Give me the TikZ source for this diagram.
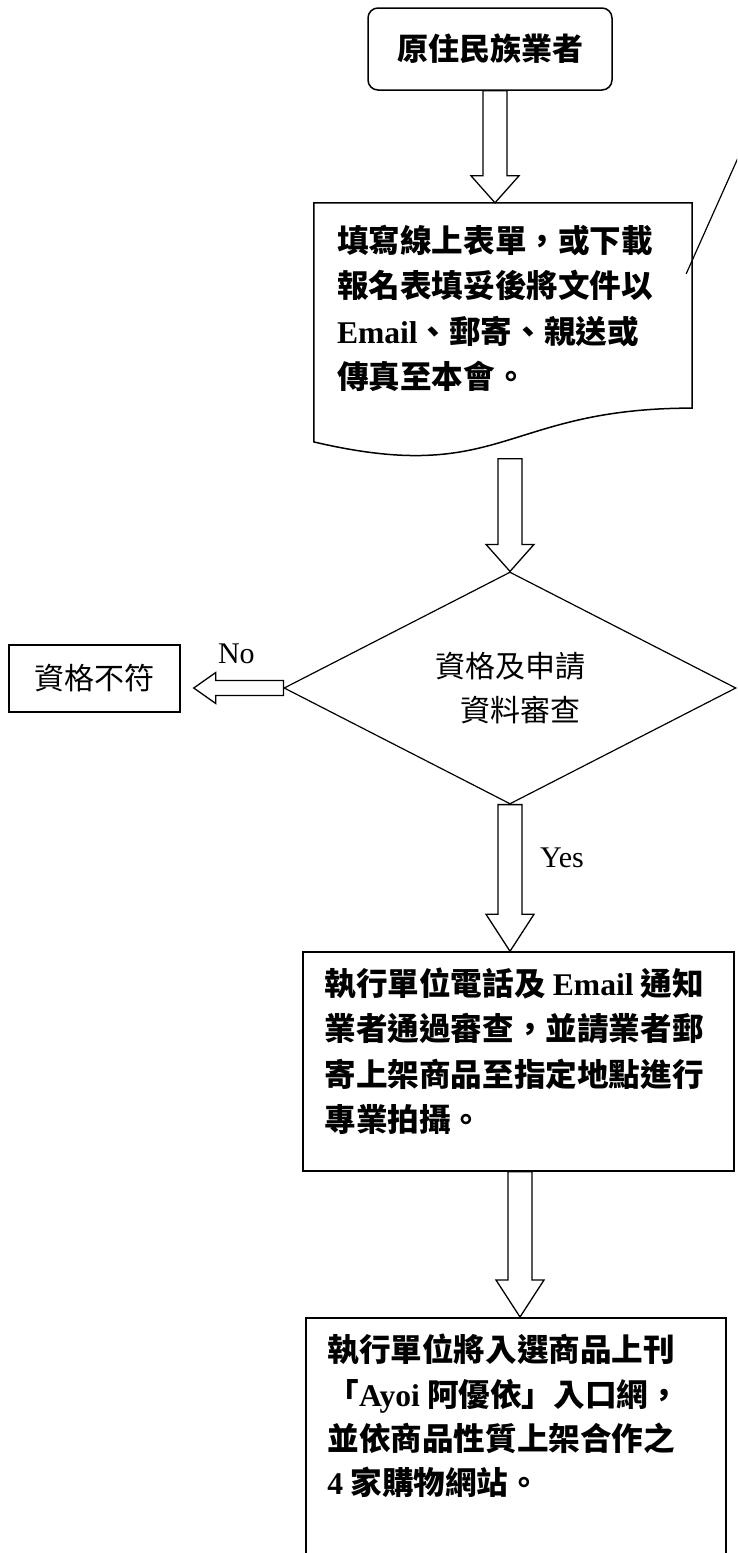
\documentclass[tikz,border=0pt]{standalone}
\usepackage{fontspec}
\setmainfont{Liberation Serif}
\newfontfamily\cjk{Noto Sans CJK TC}
\usetikzlibrary{calc,shapes.geometric}
\def\blockdown[#1](#2)(#3){\draw[blockarrow] let \p1=(#2), \p2=(#3) in (\x1-12pt,\y1) -- (\x1+12pt,\y1) -- (\x1+12pt,\y2+#1pt) -- (\x1+24pt,\y2+#1pt) -- (\x1,\y2) -- (\x1-24pt,\y2+#1pt) -- (\x1-12pt,\y2+#1pt) -- cycle;}
\def\blockleft(#1)(#2){\draw[blockarrow] let \p1=(#1), \p2=(#2) in (\x1,\y1-7.5pt) -- (\x1,\y1+7.5pt) -- (\x2+22pt,\y1+7.5pt) -- (\x2+22pt,\y1+15.5pt) -- (\x2,\y1) -- (\x2+22pt,\y1-15.5pt) -- (\x2+22pt,\y1-7.5pt) -- cycle;}

\begin{document}
\begin{tikzpicture}[x=1pt, y=-1pt,
		frame/.style={draw, line width=1.5pt, inner sep=0pt},
		bodytext/.style={anchor=north west, inner sep=0pt, align=left, font=\cjk\bfseries\fontsize{31.6}{45.5}\selectfont},
		plaintext/.style={font=\cjk\fontsize{30}{44}\selectfont},
		yesno/.style={inner sep=0pt, font=\fontsize{30}{30}\selectfont},
		blockarrow/.style={line width=1.3pt, fill=white}]
			%%%%% START %%%%%
			\useasboundingbox (0,0) rectangle (737,1553);
			\clip (0,0) rectangle (737,1553);
			
			\node[frame, rounded corners=10pt, minimum width=244, minimum height=82, font=\cjk\bfseries\fontsize{31}{31}\selectfont] (start) at (490,49) {原住民族業者};
			
			\node[inner sep=0pt, minimum width=378, minimum height=255.6] (doc) at (503,330.8) {};
			\draw[line width=1.5pt] (doc.north west) -- (doc.north east) -- ($(doc.north east)!0.802!(doc.south east)$) .. controls ($(doc.north)!0.802!(doc.south)$) and ($(doc.north)!1.1075!(doc.south)$) .. ($(doc.north west)!0.934!(doc.south west)$) -- cycle;
			\node[bodytext] (doctext) at ($(doc.north west)+(23,22)$) {填寫線上表單，或下載\\報名表填妥後將文件以\\{\rmfamily Email}、郵寄、親送或\\傳真至本會。};
			
			\coordinate (callout) at ($(doc.north east)+(-6,71)$);
			\coordinate (bubble) at (760,108.6);
			\draw[line width=1.2pt] (callout) -- (bubble);
			
			\node[diamond, draw, line width=1.2pt, inner sep=0pt, aspect=1.95, minimum width=452, minimum height=232, align=left, plaintext] (check) at (510,688) {資格及申請\\\hspace*{25pt}資料審查};
			
			\node[frame, minimum width=171, minimum height=67, plaintext] (nobox) at (94.5,678.5) {資格不符};
			\coordinate (notip) at ($(nobox.east)+(13,0)$);
			
			\node[frame, minimum width=431, minimum height=219] (info) at (518.5,1061.5) {};
			\node[bodytext] (infotext) at ($(info.north west)+(22,16)$) {執行單位電話及 {\rmfamily Email} 通知\\業者通過審查，並請業者郵\\寄上架商品至指定地點進行\\專業拍攝。};
			
			\node[frame, anchor=north, minimum width=420, minimum height=260] (shop) at (516,1317) {};
			\node[bodytext, font=\cjk\bfseries\fontsize{31.6}{44.3}\selectfont] (shoptext) at ($(shop.north west)+(22,17)$) {執行單位將入選商品上刊\\「{\rmfamily Ayoi} 阿優依」入口網，\\並依商品性質上架合作之\\{\rmfamily 4} 家購物網站。};
			
			\blockdown[27]($(start.south)+(5,0)$)(doc.north)
			\blockdown[27](doc.south -| check.north)(check.north)
			\blockdown[37](check.south)(info.north)
			\blockdown[37]($(info.south)+(1.5,0)$)(shop.north)
			\blockleft(check.west)(notip)
			
			\node[yesno] (no) at ($(check.west)+(-47,-34)$) {No};
			\node[yesno] (yes) at ($(check.south)+(52,53)$) {Yes};
			
			%%%%% END %%%%%
		\end{tikzpicture}
\end{document}
